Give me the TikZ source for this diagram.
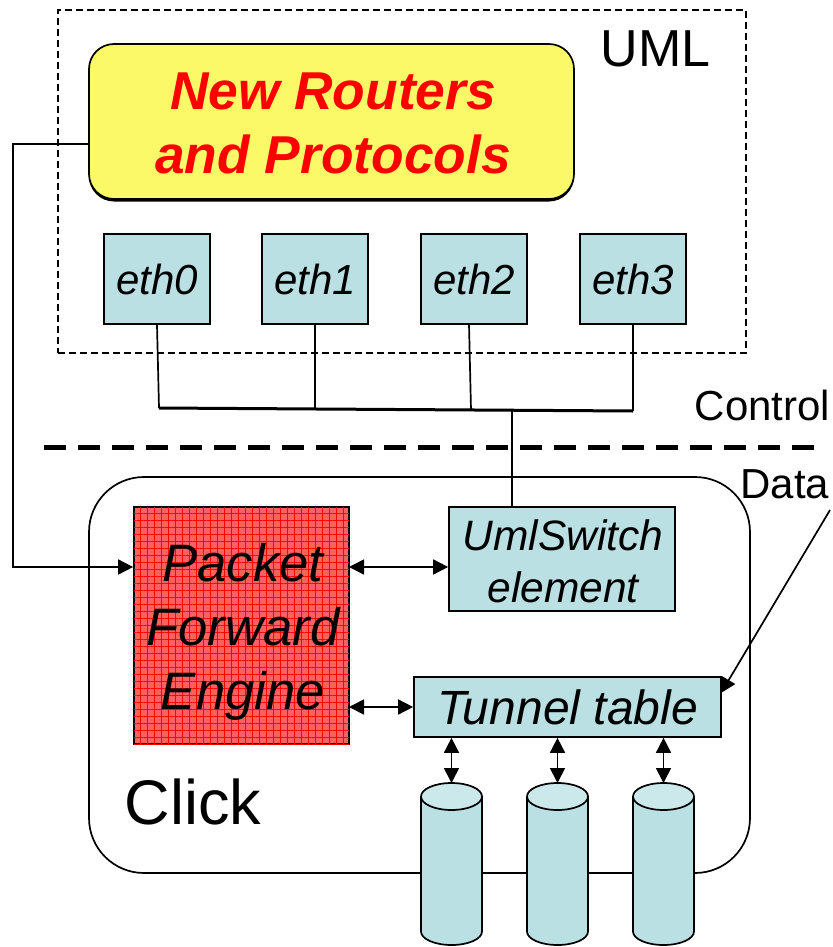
\documentclass[tikz,border=0pt]{standalone}
\usepackage{fontspec}
\setmainfont{Liberation Sans}
\usetikzlibrary{shadows,patterns.meta,arrows.meta}
\definecolor{ifcolor}{HTML}{BAE0E3}
\definecolor{routercolor}{HTML}{FBF968}
\begin{document}
\begin{tikzpicture}[x=1pt,y=-1pt,line width=1.7pt,>={Triangle[length=15pt,width=15pt]}]
	\tikzstyle{iface} = [rectangle,draw,fill=ifcolor,minimum width=106pt,minimum height=90pt,inner sep=0pt,font=\fontsize{42}{48}\selectfont\itshape]
	\tikzstyle{elem} = [rectangle,draw,fill=ifcolor,inner sep=0pt]
	\tikzstyle{lbl} = [inner sep=0pt,align=center]
	\useasboundingbox (0,0) rectangle (832,947);
	\node[rectangle,draw,dash pattern=on 7pt off 4pt,line width=1.2pt,minimum width=688pt,minimum height=343pt,inner sep=0pt](uml)at(402,181.5){};
	\node[rectangle,draw,rounded corners=55pt,minimum width=661pt,minimum height=396pt,inner sep=0pt](click)at(419.5,675){};
	\node[rectangle,draw,rounded corners=25pt,fill=routercolor,drop shadow={shadow xshift=0pt,shadow yshift=-2.5pt,opacity=1,fill=black},minimum width=485pt,minimum height=155pt,inner sep=0pt](routers)at(331.5,121.5){};
	\node[lbl,text=red,font=\fontsize{53.3}{64}\selectfont\bfseries\itshape](routerstext)at(333,123.5){New Routers\\and Protocols};
	\node[iface](eth0)at(157,279){eth0};
	\node[iface](eth1)at(315,279){eth1};
	\node[iface](eth2)at(474,279){eth2};
	\node[iface](eth3)at(633,279){eth3};
	\node[lbl,font=\fontsize{52}{60}\selectfont](umllabel)at(655.5,49){UML};
	\node[lbl,font=\fontsize{42}{50}\selectfont,anchor=east](control)at(831,405){Control};
	\node[lbl,font=\fontsize{42}{50}\selectfont,anchor=east](data)at(830,484){Data};
	\node[lbl,font=\fontsize{63}{72}\selectfont](clicklabel)at(193,802){Click};
	\node[rectangle,draw,fill=red!62,postaction={pattern={Lines[angle=0,distance=7pt,line width=0.7pt]},pattern color=red},postaction={pattern={Lines[angle=90,distance=7pt,line width=0.7pt]},pattern color=red},minimum width=215pt,minimum height=237pt,inner sep=0pt](engine)at(241.5,625.5){};
	\node[lbl,font=\fontsize{52.7}{64}\selectfont\itshape](enginetext)at(243,632){Packet\\Forward\\Engine};
	\node[elem,minimum width=226pt,minimum height=104pt](switch)at(562,559){};
	\node[lbl,font=\fontsize{42.5}{52}\selectfont\itshape](switchtext)at(563,561){UmlSwitch\\element};
	\node[elem,minimum width=307pt,minimum height=60pt,font=\fontsize{48}{54}\selectfont\itshape](tunnel)at(567.5,707){Tunnel table};
	\foreach \name/\xpos in {disk0/451.5,disk1/557.5,disk2/663.5}{
		\coordinate(\name)at(\xpos,783);
		\draw[fill=ifcolor] (\xpos-30.5,796.5) -- (\xpos-30.5,931.5) arc[start angle=180,end angle=360,x radius=30.5pt,y radius=13.5pt] -- (\xpos+30.5,796.5);
		\draw[fill=ifcolor!75!white] (\xpos,796.5) ellipse[x radius=30.5pt,y radius=13.5pt];
	}
	\coordinate(busl)at(159,408);
	\coordinate(bus1)at(315,409);
	\coordinate(bus2)at(471,410);
	\coordinate(busr)at(633,411);
	\coordinate(bus3)at(512,410);
	\coordinate(routerport)at(89,144);
	\coordinate(corner)at(13,567);
	\coordinate(sepl)at(44,447);
	\coordinate(sepr)at(815,447);
	\coordinate(datafrom)at(830,510);
	\coordinate(datato)at(721,693);
	\coordinate(engr1)at(349,567);
	\coordinate(engr2)at(349,707);
	\coordinate(eth2out)at(469,324);
	\draw[line width=3pt] (busl) -- (busr);
	\draw (eth0.south) -- (busl);
	\draw (eth1.south) -- (bus1);
	\draw (eth2out) -- (bus2);
	\draw (eth3.south) -- (busr);
	\draw (bus3) -- (bus3 |- switch.north);
	\draw[line width=5pt,dash pattern=on 22pt off 12pt] (sepl) -- (sepr);
	\draw[->] (routerport) -| (corner) -- (engine.west |- corner);
	\path[<->] (engr1) edge (switch.west |- engr1)
	(engr2) edge (tunnel.west)
	(disk0 |- tunnel.south) edge (disk0)
	(disk1 |- tunnel.south) edge (disk1)
	(disk2 |- tunnel.south) edge (disk2);
	\draw[->] (datafrom) -- (datato);
\end{tikzpicture}
\end{document}
